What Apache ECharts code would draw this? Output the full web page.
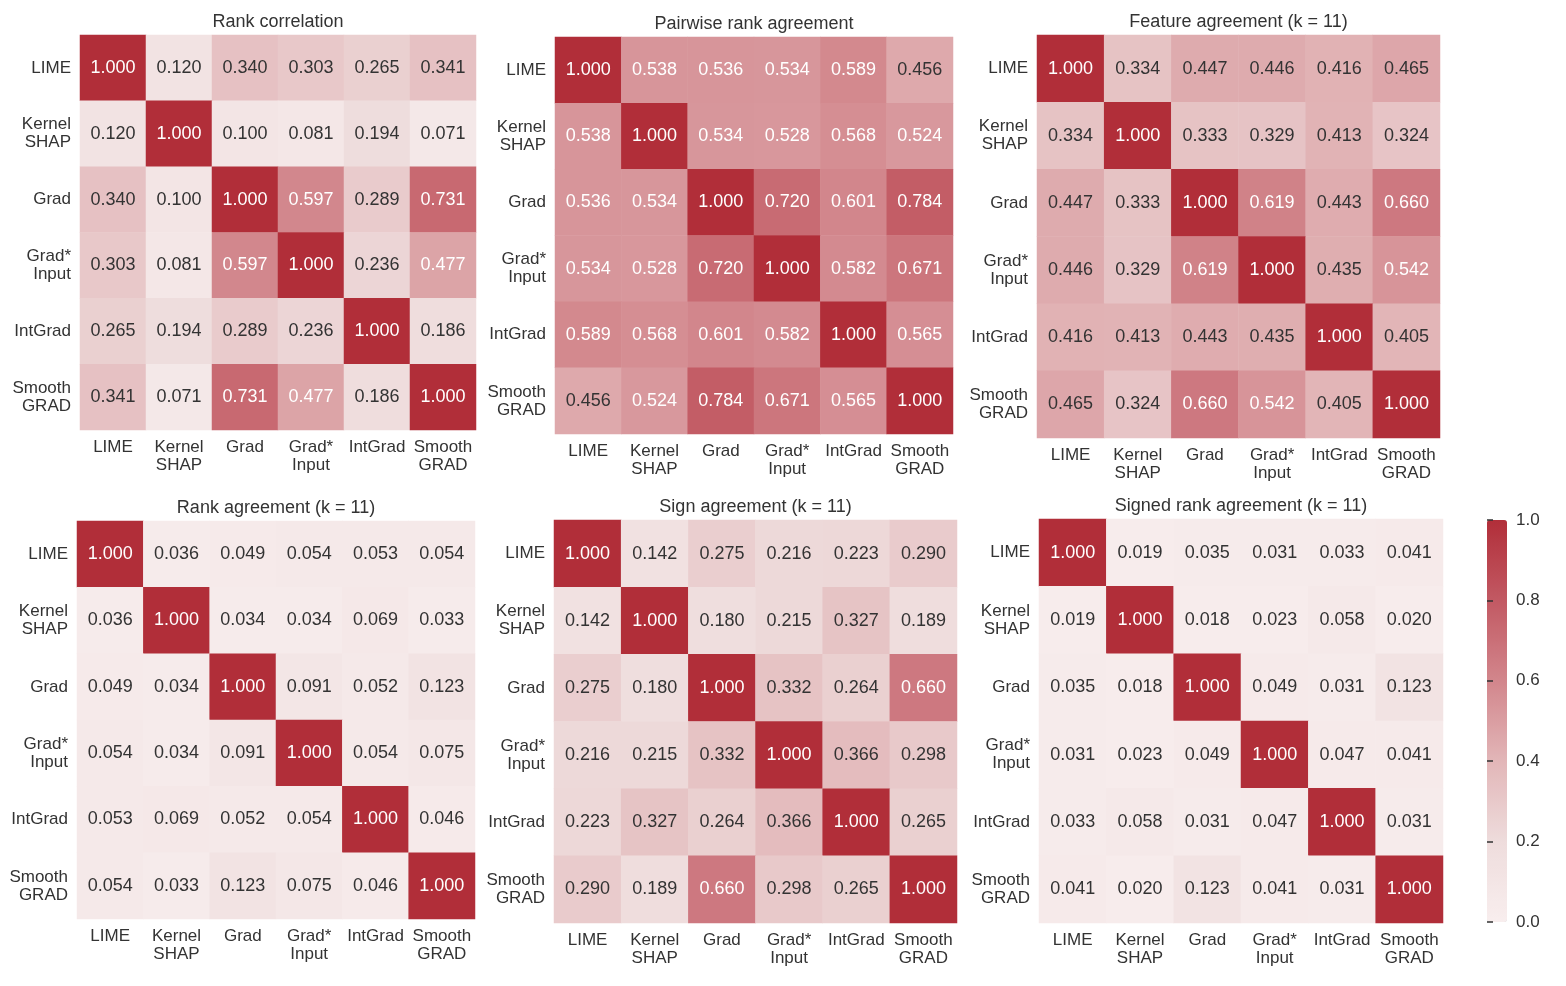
<!DOCTYPE html>
<html>
<head>
<meta charset="utf-8">
<script src="https://cdn.jsdelivr.net/npm/echarts@6/dist/echarts.min.js"></script>
<style>
  html, body { margin: 0; padding: 0; background: #fff; }
  #main { width: 1566px; height: 986px; }
</style>
</head>
<body>
<div id="main"></div>
<script>
// method names (rows / columns of every matrix)
var methods = ['LIME', 'Kernel\nSHAP', 'Grad', 'Grad*\nInput', 'IntGrad', 'Smooth\nGRAD'];

var rankCorrelation = [
    [1.000, 0.120, 0.340, 0.303, 0.265, 0.341],
    [0.120, 1.000, 0.100, 0.081, 0.194, 0.071],
    [0.340, 0.100, 1.000, 0.597, 0.289, 0.731],
    [0.303, 0.081, 0.597, 1.000, 0.236, 0.477],
    [0.265, 0.194, 0.289, 0.236, 1.000, 0.186],
    [0.341, 0.071, 0.731, 0.477, 0.186, 1.000]
];
var pairwiseRank = [
    [1.000, 0.538, 0.536, 0.534, 0.589, 0.456],
    [0.538, 1.000, 0.534, 0.528, 0.568, 0.524],
    [0.536, 0.534, 1.000, 0.720, 0.601, 0.784],
    [0.534, 0.528, 0.720, 1.000, 0.582, 0.671],
    [0.589, 0.568, 0.601, 0.582, 1.000, 0.565],
    [0.456, 0.524, 0.784, 0.671, 0.565, 1.000]
];
var featureAgreement = [
    [1.000, 0.334, 0.447, 0.446, 0.416, 0.465],
    [0.334, 1.000, 0.333, 0.329, 0.413, 0.324],
    [0.447, 0.333, 1.000, 0.619, 0.443, 0.660],
    [0.446, 0.329, 0.619, 1.000, 0.435, 0.542],
    [0.416, 0.413, 0.443, 0.435, 1.000, 0.405],
    [0.465, 0.324, 0.660, 0.542, 0.405, 1.000]
];
var rankAgreement = [
    [1.000, 0.036, 0.049, 0.054, 0.053, 0.054],
    [0.036, 1.000, 0.034, 0.034, 0.069, 0.033],
    [0.049, 0.034, 1.000, 0.091, 0.052, 0.123],
    [0.054, 0.034, 0.091, 1.000, 0.054, 0.075],
    [0.053, 0.069, 0.052, 0.054, 1.000, 0.046],
    [0.054, 0.033, 0.123, 0.075, 0.046, 1.000]
];
var signAgreement = [
    [1.000, 0.142, 0.275, 0.216, 0.223, 0.290],
    [0.142, 1.000, 0.180, 0.215, 0.327, 0.189],
    [0.275, 0.180, 1.000, 0.332, 0.264, 0.660],
    [0.216, 0.215, 0.332, 1.000, 0.366, 0.298],
    [0.223, 0.327, 0.264, 0.366, 1.000, 0.265],
    [0.290, 0.189, 0.660, 0.298, 0.265, 1.000]
];
var signedRankAgreement = [
    [1.000, 0.019, 0.035, 0.031, 0.033, 0.041],
    [0.019, 1.000, 0.018, 0.023, 0.058, 0.020],
    [0.035, 0.018, 1.000, 0.049, 0.031, 0.123],
    [0.031, 0.023, 0.049, 1.000, 0.047, 0.041],
    [0.033, 0.058, 0.031, 0.047, 1.000, 0.031],
    [0.041, 0.020, 0.123, 0.041, 0.031, 1.000]
];

var panelTitles = ['Rank correlation', 'Pairwise rank agreement', 'Feature agreement (k = 11)',
                   'Rank agreement (k = 11)', 'Sign agreement (k = 11)', 'Signed rank agreement (k = 11)'];

var matrices = [rankCorrelation, pairwiseRank, featureAgreement, rankAgreement, signAgreement, signedRankAgreement];

// panel boxes
var boxes = [
    {left: 80,   top: 35,  width: 396, height: 395},
    {left: 555,  top: 37,  width: 398, height: 397},
    {left: 1037, top: 35,  width: 403, height: 403},
    {left: 77,   top: 521, width: 398, height: 398},
    {left: 554,  top: 520, width: 403, height: 403},
    {left: 1039, top: 519, width: 404, height: 404}
];

var font = 'Liberation Sans, Arial, sans-serif';
var textCol = '#333';

var grids = [], xAxes = [], yAxes = [], series = [], titles = [];

boxes.forEach(function (b, i) {
    grids.push({left: b.left, top: b.top, width: b.width, height: b.height, containLabel: false});
    xAxes.push({
        type: 'category', gridIndex: i, data: methods,
        axisLine: {show: false}, axisTick: {show: false}, splitLine: {show: false},
        axisLabel: {color: textCol, fontSize: 17, fontFamily: font, margin: 8, lineHeight: 18, interval: 0}
    });
    yAxes.push({
        type: 'category', gridIndex: i, data: methods, inverse: true,
        axisLine: {show: false}, axisTick: {show: false}, splitLine: {show: false},
        axisLabel: {color: textCol, fontSize: 17, fontFamily: font, margin: 9, lineHeight: 18, interval: 0, align: 'right'}
    });
    titles.push({
        text: panelTitles[i], left: b.left + b.width / 2, top: b.top - 22, textAlign: 'center', padding: 0,
        textStyle: {fontSize: 18, fontWeight: 'normal', color: textCol, fontFamily: font}
    });
    var data = [];
    matrices[i].forEach(function (row, r) {
        row.forEach(function (v, c) {
            data.push({value: [c, r, v], label: {color: v > 0.47 ? '#fff' : textCol}});
        });
    });
    series.push({
        type: 'heatmap', xAxisIndex: i, yAxisIndex: i, data: data,
        label: {
            show: true, fontSize: 18, fontFamily: font,
            formatter: function (p) { return p.value[2].toFixed(3); }
        },
        itemStyle: {borderWidth: 0},
        emphasis: {disabled: true}
    });
});

// colorbar axis
grids.push({left: 1487, top: 520, width: 20, height: 402});
xAxes.push({type: 'value', gridIndex: 6, show: false, min: 0, max: 1});
yAxes.push({
    type: 'value', gridIndex: 6, position: 'right', min: 0, max: 1, interval: 0.2,
    axisLine: {show: true, lineStyle: {color: 'rgba(0,0,0,0)'}}, splitLine: {show: false},
    axisTick: {show: true, inside: false, length: 6, lineStyle: {color: '#333', width: 1.5}},
    axisLabel: {color: textCol, fontSize: 17, fontFamily: font, margin: 9,
        formatter: function (v) { return v.toFixed(1); }},
    z: 10
});
series.push({type: 'scatter', xAxisIndex: 6, yAxisIndex: 6, data: [], silent: true});

var myChart = echarts.init(document.getElementById('main'));
var option = {
    backgroundColor: '#fff',
    animation: false,
    title: titles,
    grid: grids,
    xAxis: xAxes,
    yAxis: yAxes,
    visualMap: {
        type: 'continuous', min: 0, max: 1, calculable: false, hoverLink: false,
        seriesIndex: [0, 1, 2, 3, 4, 5],
        left: 1487, top: 520, itemWidth: 20, itemHeight: 402, padding: 0,
        text: null, showLabel: false,
        inRange: {color: ['#f8eeee', '#eedcdc', '#e2b6b8', '#d2868c', '#c25963', '#b12e39']}
    },
    series: series
};
myChart.setOption(option);
</script>
</body>
</html>
